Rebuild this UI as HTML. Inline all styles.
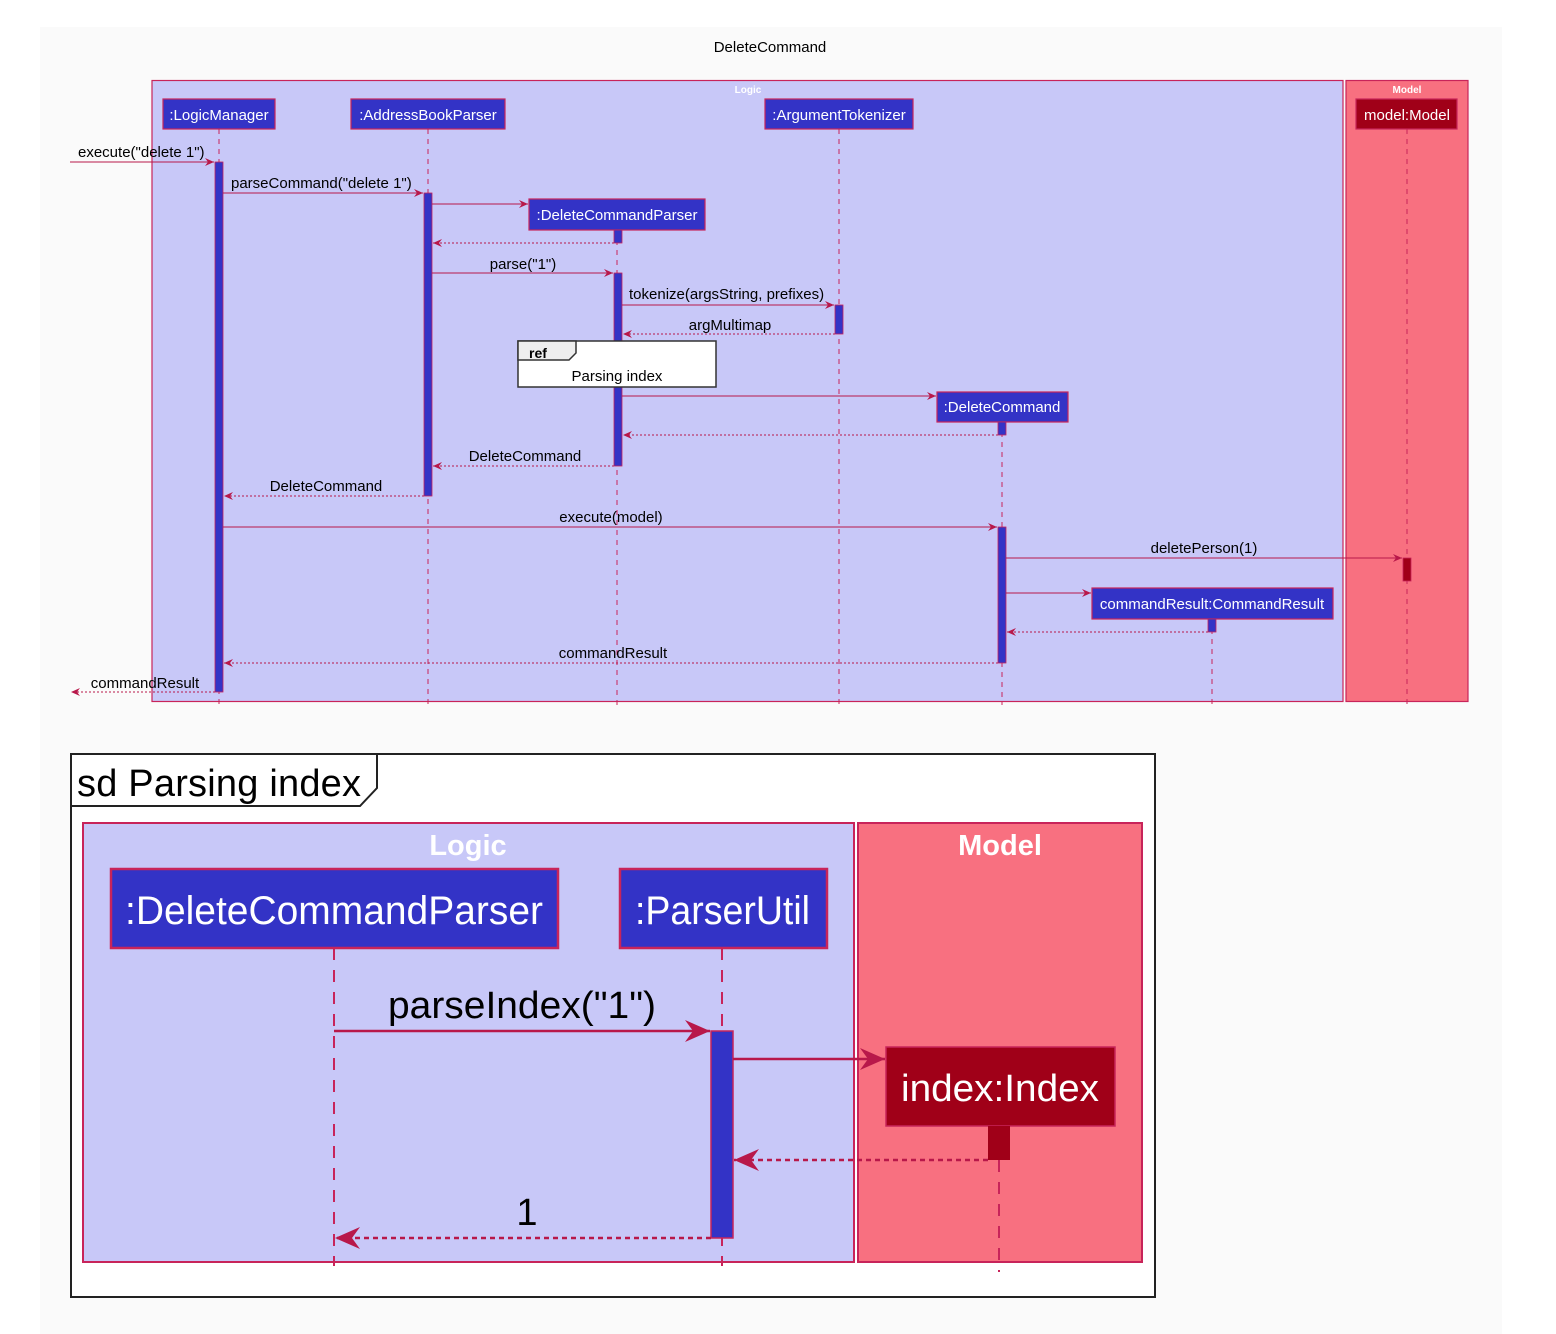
<!DOCTYPE html>
<html><head><meta charset="utf-8"><style>
html,body{margin:0;padding:0;background:#fff;}
svg{display:block;}
text{font-family:"Liberation Sans",sans-serif;}
</style></head><body>
<svg width="1556" height="1334" viewBox="0 0 1556 1334" xmlns="http://www.w3.org/2000/svg">
<defs>
<marker id="a" markerWidth="10" markerHeight="8" refX="9" refY="4" orient="auto" markerUnits="userSpaceOnUse"><path d="M0,0 L9,4 L0,8 L3,4 Z" fill="#b8184a"/></marker>
<marker id="b" markerWidth="26" markerHeight="22" refX="25" refY="11" orient="auto" markerUnits="userSpaceOnUse"><path d="M0,0 L25,11 L0,22 L8,11 Z" fill="#b8184a"/></marker>
</defs>
<rect x="40" y="27" width="1462" height="1307" fill="#fafafa"/>
<text x="770" y="52" font-size="15" text-anchor="middle" fill="#000">DeleteCommand</text>
<rect x="152" y="80.5" width="1191" height="621" fill="#c8c8f8" stroke="#c8245a" stroke-width="1.2"/>
<text x="748" y="93" font-size="10" font-weight="bold" text-anchor="middle" fill="#fff">Logic</text>
<rect x="1346" y="80.5" width="122" height="621" fill="#f87080" stroke="#c8245a" stroke-width="1.2"/>
<text x="1407" y="93" font-size="10" font-weight="bold" text-anchor="middle" fill="#fff">Model</text>
<g stroke="#c8245a" stroke-width="1" stroke-dasharray="5,5">
<line x1="219" y1="129" x2="219" y2="705"/>
<line x1="428" y1="129" x2="428" y2="705"/>
<line x1="839" y1="129" x2="839" y2="705"/>
<line x1="1407" y1="129" x2="1407" y2="705"/>
<line x1="617" y1="230" x2="617" y2="705"/>
<line x1="1002" y1="422" x2="1002" y2="705"/>
<line x1="1212" y1="619" x2="1212" y2="708"/>
</g>
<g stroke="#c8245a" stroke-width="1.2">
<rect x="163" y="99" width="112" height="30" fill="#3333c6"/>
<rect x="351" y="99" width="154" height="30" fill="#3333c6"/>
<rect x="765" y="99" width="148" height="30" fill="#3333c6"/>
<rect x="1356" y="99" width="101" height="30" fill="#a00018"/>
<rect x="529" y="199" width="176" height="31" fill="#3333c6"/>
<rect x="937" y="392" width="131" height="30" fill="#3333c6"/>
<rect x="1092" y="588" width="241" height="31" fill="#3333c6"/>
</g>
<g font-size="15" fill="#fff" text-anchor="middle">
<text x="219" y="120">:LogicManager</text>
<text x="428" y="120">:AddressBookParser</text>
<text x="839" y="120">:ArgumentTokenizer</text>
<text x="1407" y="120">model:Model</text>
<text x="617" y="220">:DeleteCommandParser</text>
<text x="1002" y="412">:DeleteCommand</text>
<text x="1212" y="609">commandResult:CommandResult</text>
</g>
<g stroke="#c8245a" stroke-width="0.8" fill="#3333c6">
<rect x="215" y="162" width="8" height="530"/>
<rect x="424" y="193" width="8" height="303"/>
<rect x="614" y="230" width="8" height="13"/>
<rect x="614" y="273" width="8" height="193"/>
<rect x="835" y="305" width="8" height="29"/>
<rect x="998" y="422" width="8" height="13"/>
<rect x="998" y="527" width="8" height="136"/>
<rect x="1208" y="619" width="8" height="13"/>
<rect x="1403" y="558" width="8" height="23" fill="#a00018"/>
</g>
<rect x="518" y="341" width="198" height="46" fill="#fff" stroke="#333" stroke-width="1.5"/>
<path d="M518,341 L576,341 L576,353 L569,360 L518,360 Z" fill="#eee" stroke="#333" stroke-width="1.5"/>
<text x="529" y="358" font-size="14" font-weight="bold">ref</text>
<text x="617" y="381" font-size="15" text-anchor="middle">Parsing index</text>
<g stroke="#b8184a" stroke-width="1" fill="none" marker-end="url(#a)">
<line x1="70" y1="162" x2="214" y2="162"/>
<line x1="223" y1="193" x2="423" y2="193"/>
<line x1="432" y1="204" x2="528" y2="204"/>
<line x1="432" y1="273" x2="613" y2="273"/>
<line x1="622" y1="305" x2="834" y2="305"/>
<line x1="622" y1="396" x2="936" y2="396"/>
<line x1="223" y1="527" x2="997" y2="527"/>
<line x1="1006" y1="558" x2="1402" y2="558"/>
<line x1="1006" y1="593" x2="1091" y2="593"/>
</g>
<g stroke="#b8184a" stroke-width="1" fill="none" stroke-dasharray="2,2" marker-end="url(#a)">
<line x1="614" y1="243" x2="433" y2="243"/>
<line x1="835" y1="334" x2="623" y2="334"/>
<line x1="998" y1="435" x2="623" y2="435"/>
<line x1="614" y1="466" x2="433" y2="466"/>
<line x1="424" y1="496" x2="224" y2="496"/>
<line x1="1208" y1="632" x2="1007" y2="632"/>
<line x1="998" y1="663" x2="224" y2="663"/>
<line x1="215" y1="692" x2="71" y2="692"/>
</g>
<g font-size="15" fill="#000">
<text x="78" y="157">execute("delete 1")</text>
<text x="231" y="188">parseCommand("delete 1")</text>
<text x="523" y="269" text-anchor="middle">parse("1")</text>
<text x="629" y="299">tokenize(argsString, prefixes)</text>
<text x="730" y="330" text-anchor="middle">argMultimap</text>
<text x="525" y="461" text-anchor="middle">DeleteCommand</text>
<text x="326" y="491" text-anchor="middle">DeleteCommand</text>
<text x="611" y="522" text-anchor="middle">execute(model)</text>
<text x="1204" y="553" text-anchor="middle">deletePerson(1)</text>
<text x="613" y="658" text-anchor="middle">commandResult</text>
<text x="145" y="688" text-anchor="middle">commandResult</text>
</g>

<rect x="71" y="754" width="1084" height="543" fill="#fff" stroke="#222" stroke-width="2"/>
<path d="M71,754 L377,754 L377,788 L360,806 L71,806" fill="none" stroke="#222" stroke-width="2"/>
<text x="77" y="796" font-size="38" fill="#000" textLength="284">sd Parsing index</text>
<rect x="83" y="823" width="771" height="439" fill="#c8c8f8" stroke="#c8245a" stroke-width="2"/>
<text x="468" y="855" font-size="29" font-weight="bold" text-anchor="middle" fill="#fff">Logic</text>
<rect x="858" y="823" width="284" height="439" fill="#f87080" stroke="#c8245a" stroke-width="2"/>
<text x="1000" y="855" font-size="29" font-weight="bold" text-anchor="middle" fill="#fff">Model</text>
<g stroke="#c8245a" stroke-width="2" stroke-dasharray="12,10">
<line x1="334" y1="948" x2="334" y2="1266"/>
<line x1="722" y1="948" x2="722" y2="1266"/>
<line x1="999" y1="1160" x2="999" y2="1272"/>
</g>
<rect x="111" y="869" width="447" height="79" fill="#3333c6" stroke="#c8245a" stroke-width="2.5"/>
<text x="125" y="924" font-size="40" fill="#fff" textLength="418" lengthAdjust="spacingAndGlyphs">:DeleteCommandParser</text>
<rect x="620" y="869" width="207" height="79" fill="#3333c6" stroke="#c8245a" stroke-width="2.5"/>
<text x="635" y="924" font-size="40" fill="#fff" textLength="175" lengthAdjust="spacingAndGlyphs">:ParserUtil</text>
<rect x="711" y="1031" width="22" height="207" fill="#3333c6" stroke="#c8245a" stroke-width="1.5"/>
<rect x="886" y="1047" width="229" height="79" fill="#a00018" stroke="#c8245a" stroke-width="1.5"/>
<text x="901" y="1101" font-size="38" fill="#fff" textLength="198" lengthAdjust="spacingAndGlyphs">index:Index</text>
<rect x="988" y="1126" width="22" height="34" fill="#a00018"/>
<g stroke="#b8184a" stroke-width="2.5" fill="none">
<line x1="334" y1="1031" x2="710" y2="1031" marker-end="url(#b)"/>
<line x1="733" y1="1059" x2="885" y2="1059" marker-end="url(#b)"/>
<line x1="988" y1="1160" x2="734" y2="1160" stroke-dasharray="5,4" marker-end="url(#b)"/>
<line x1="711" y1="1238" x2="335" y2="1238" stroke-dasharray="5,4" marker-end="url(#b)"/>
</g>
<text x="388" y="1018" font-size="38" fill="#000" textLength="268" lengthAdjust="spacingAndGlyphs">parseIndex("1")</text>
<text x="527" y="1225" font-size="38" text-anchor="middle" fill="#000">1</text>
</svg>
</body></html>
